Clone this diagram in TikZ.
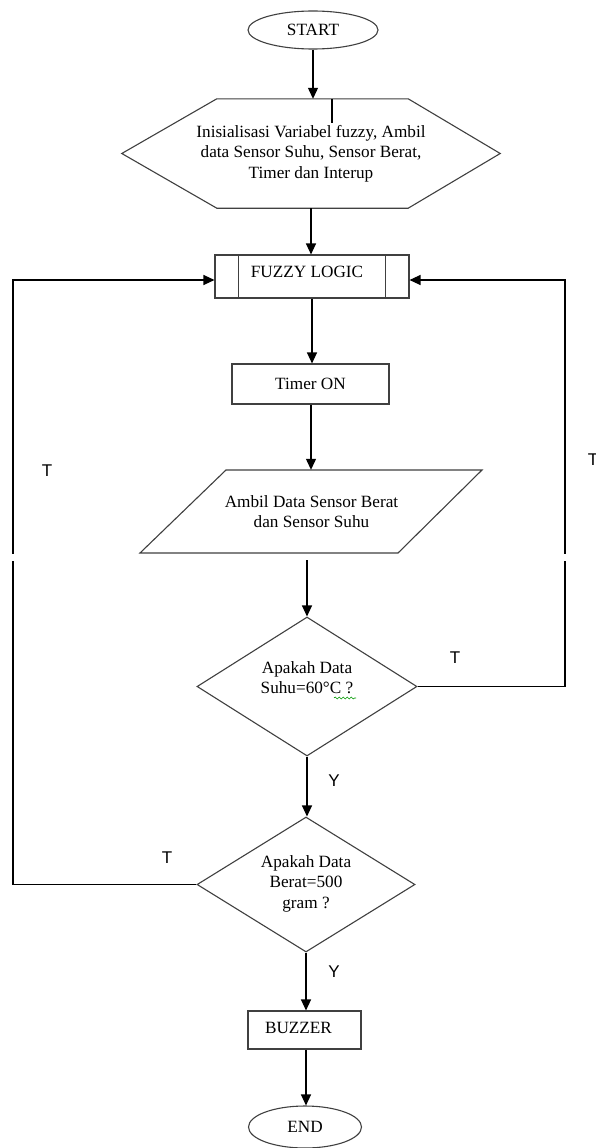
\documentclass[tikz,border=0pt]{standalone}
\usepackage{fontspec}
\setmainfont{Liberation Serif}
\newfontfamily\labelfont{Liberation Sans}
\usetikzlibrary{shapes.geometric,arrows.meta,calc,decorations.pathmorphing}
\begin{document}
\begin{tikzpicture}[x=1pt,y=-1pt,
  shapeline/.style={draw=black!75, line width=1.1pt},
  txt/.style={font=\fontsize{17.2}{20.5}\selectfont, align=center},
  flow/.style={draw=black, line width=1.2pt, -{Triangle[length=11pt,width=10pt]}},
  lbl/.style={font=\labelfont\fontsize{17}{20}\selectfont},
  term/.style={ellipse, shapeline, txt, inner sep=0},
  proc/.style={rectangle, shapeline, txt, inner sep=0},
  decision/.style={diamond, shapeline, txt, inner sep=0},
]
\useasboundingbox (0,0) rectangle (595,1148);
\fill[white] (0,0) rectangle (595,1148);

% nodes
\node[term, minimum width=130pt, minimum height=38pt] (start) at (313,30) {START};
\node[txt, minimum width=378pt, minimum height=109pt, inner sep=0] (init) at (311,153.5)
  {Inisialisasi Variabel fuzzy, Ambil\\data Sensor Suhu, Sensor Berat,\\Timer dan Interup};
\draw[shapeline] (init.west) -- ($(init.north west)+(95,0)$) -- ($(init.north east)+(-92,0)$)
  -- (init.east) -- ($(init.south east)+(-92,0)$) -- ($(init.south west)+(95,0)$) -- cycle;
\draw[line width=1.5pt] (332,99) -- (332,123);

\node[proc, minimum width=194pt, minimum height=43pt,
  label={[txt, yshift=5pt, xshift=-5pt]center:FUZZY LOGIC}] (fuzzy) at (312,276.5) {};
\draw[shapeline] ($(fuzzy.north west)+(24,0)$) -- ($(fuzzy.south west)+(24,0)$);
\draw[shapeline] ($(fuzzy.north east)+(-24,0)$) -- ($(fuzzy.south east)+(-24,0)$);

\node[proc, minimum width=157pt, minimum height=40pt] (timer) at (310.5,384) {Timer ON};

\node[txt, minimum width=258pt, minimum height=83pt, inner sep=0] (ambil) at (311.5,511.5)
  {Ambil Data Sensor Berat\\dan Sensor Suhu};
\draw[shapeline] ($(ambil.center)+(-85.5,-41.5)$) -- ($(ambil.center)+(170.5,-41.5)$)
  -- ($(ambil.center)+(86.5,41.5)$) -- ($(ambil.center)+(-171.5,41.5)$) -- cycle;

\node[decision, minimum width=220pt, minimum height=139pt,
  label={[txt, yshift=9pt]center:Apakah Data\\Suhu=60°C ?}] (d1) at (307,686.5) {};
\draw[green!60!black, line width=0.6pt, decorate, decoration={snake, amplitude=1pt, segment length=4pt}]
  (334,698) -- (356,698);

\node[decision, minimum width=218pt, minimum height=135pt,
  label={[txt, yshift=1pt]center:Apakah Data\\Berat=500\\gram ?}] (d2) at (306,884.5) {};

\node[proc, minimum width=113pt, minimum height=38pt,
  label={[txt, xshift=-6pt, yshift=2pt]center:BUZZER}] (buzzer) at (304.5,1030) {};
\node[term, minimum width=113pt, minimum height=42pt] (end) at (305,1127) {END};

% connectors
\draw[flow] (start.south) -- (start.south |- init.north);
\draw[flow] (init.south) -- (init.south |- fuzzy.north);
\draw[flow] (fuzzy.south) -- (fuzzy.south |- timer.north);
\draw[flow] ([xshift=0.5pt]timer.south) -- ([xshift=0.5pt]timer.south |- ambil.north);
\draw[flow] ($(d1.north |- ambil.south)+(0,7)$) -- (d1.north);
\draw[flow] (d1.south) -- (d1.south |- d2.north);
\draw[flow] (d2.south) -- (d2.south |- buzzer.north);
\draw[flow] (d2.south |- buzzer.south) -- (d2.south |- end.north);

\coordinate (rloop) at (565,280);
\coordinate (lloop) at (13,280);
\draw[flow] (d1.east) -| (rloop) -- (fuzzy.east |- rloop);
\draw[flow] (d2.west) -| (lloop) -- (fuzzy.west |- lloop);
% breaks in the long return lines
\fill[white] (5,554) rectangle (21,561);
\fill[white] (557,554) rectangle (573,561);

% labels
\node[lbl] (t1) at (47,471) {T};
\node[lbl] (t2) at (593,460) {T};
\node[lbl] (t3) at (455,658) {T};
\node[lbl] (y1) at (334,781) {Y};
\node[lbl] (t4) at (167,858) {T};
\node[lbl] (y2) at (334,972) {Y};
\end{tikzpicture}
\end{document}
